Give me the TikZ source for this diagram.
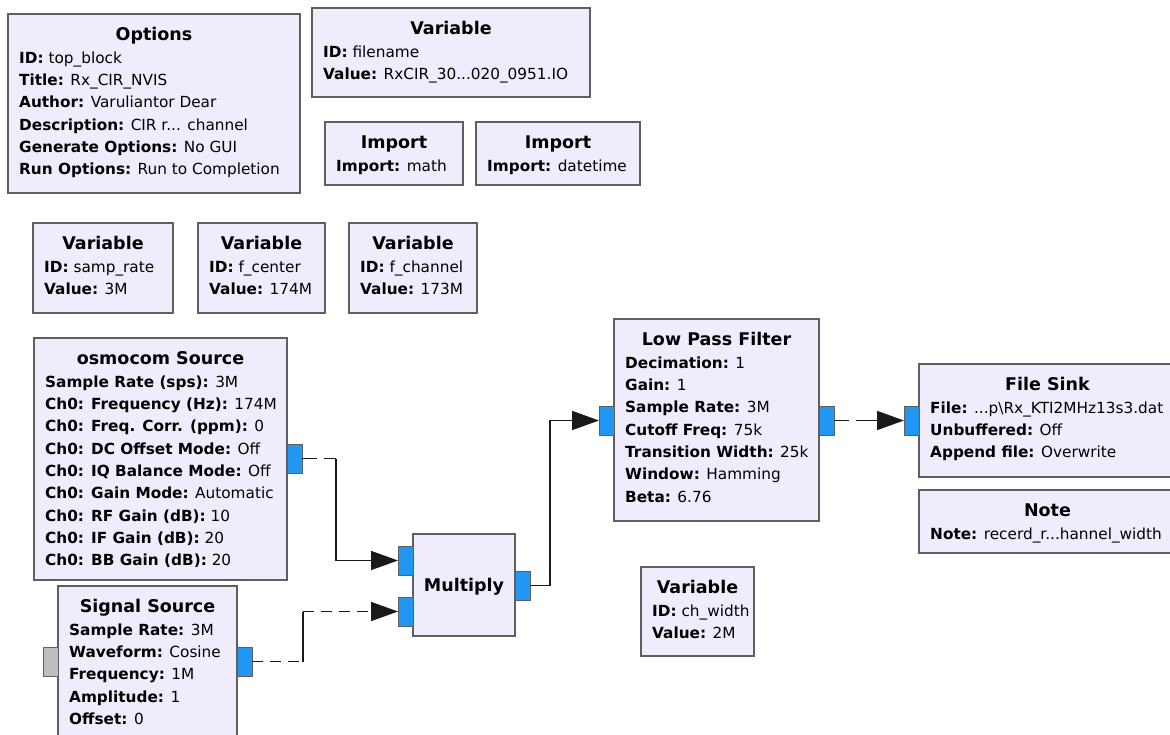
\documentclass[tikz,border=0pt]{standalone}
\usepackage{fontspec}
\setmainfont{DejaVu Sans}
\usetikzlibrary{arrows.meta,calc}
\definecolor{blkfill}{RGB}{240,236,252}
\definecolor{blkline}{RGB}{95,95,95}
\definecolor{portblue}{RGB}{33,150,243}
\definecolor{portgray}{RGB}{190,190,190}
\definecolor{wire}{RGB}{25,25,25}
\tikzset{
 blk/.style={draw=blkline, fill=blkfill, line width=1.3pt, anchor=north west, inner sep=0pt, outer sep=0pt},
 ttl/.style={font=\fontsize{17.5}{20}\selectfont\bfseries, anchor=base, inner sep=0pt},
 props/.style={font=\fontsize{15.3}{22.3}\selectfont, align=left, anchor=north west, inner sep=0pt},
 port/.style={draw=blkline, fill=portblue, line width=1pt, minimum width=15pt, minimum height=29pt, inner sep=0pt, outer sep=0pt, anchor=north west},
 gport/.style={port, fill=portgray},
 wireln/.style={draw=wire, line width=1.6pt},
 dshA/.style={dash pattern=on 15pt off 7pt},
 dshB/.style={dash pattern=on 11pt off 7pt},
 tip/.style={-{Triangle[length=27pt,width=19pt]}},
}
\newcommand\grcblk[7]{%
 \node[blk, minimum width=#4pt, minimum height=#5pt] (#1) at (#2,#3) {};
 \node[ttl] (#1t) at ($(#1.north)+(0,26)$) {#6};
 \node[props] (#1p) at ($(#1.north west)+(11,33.4)$) {\strut #7};
}
\begin{document}
\begin{tikzpicture}[x=1pt,y=-1pt]
\fill[white] (0,0) rectangle (1170,734);
\useasboundingbox (0,0) rectangle (1170,734);

\grcblk{opt}{8}{14}{292}{179}{Options}{\textbf{ID:} top\_block\\ \textbf{Title:} Rx\_CIR\_NVIS\\ \textbf{Author:} Varuliantor Dear\\ \textbf{Description:} CIR r... channel\\ \textbf{Generate Options:} No GUI\\ \textbf{Run Options:} Run to Completion}
\grcblk{fname}{312}{8}{278}{89}{Variable}{\textbf{ID:} filename\\ \textbf{Value:} RxCIR\_30...020\_0951.IO}
\grcblk{imath}{325}{122}{138}{63}{Import}{\textbf{Import:} math}
\grcblk{idt}{476}{122}{164}{63}{Import}{\textbf{Import:} datetime}

\grcblk{vsr}{33}{223}{140}{90}{Variable}{\textbf{ID:} samp\_rate\\ \textbf{Value:} 3M}
\grcblk{vfc}{198}{223}{127}{90}{Variable}{\textbf{ID:} f\_center\\ \textbf{Value:} 174M}
\grcblk{vfch}{349}{223}{128}{90}{Variable}{\textbf{ID:} f\_channel\\ \textbf{Value:} 173M}

\grcblk{osmo}{34}{338}{253}{242}{osmocom Source}{\textbf{Sample Rate (sps):} 3M\\ \textbf{Ch0: Frequency (Hz):} 174M\\ \textbf{Ch0: Freq. Corr. (ppm):} 0\\ \textbf{Ch0: DC Offset Mode:} Off\\ \textbf{Ch0: IQ Balance Mode:} Off\\ \textbf{Ch0: Gain Mode:} Automatic\\ \textbf{Ch0: RF Gain (dB):} 10\\ \textbf{Ch0: IF Gain (dB):} 20\\ \textbf{Ch0: BB Gain (dB):} 20}
\grcblk{sig}{58}{586}{179}{160}{Signal Source}{\textbf{Sample Rate:} 3M\\ \textbf{Waveform:} Cosine\\ \textbf{Frequency:} 1M\\ \textbf{Amplitude:} 1\\ \textbf{Offset:} 0}

\node[blk, minimum width=102pt, minimum height=102pt] (mul) at (413,534) {};
\node[ttl] (mult) at (464,591) {Multiply};

\grcblk{lpf}{614}{319}{205}{202}{Low Pass Filter}{\textbf{Decimation:} 1\\ \textbf{Gain:} 1\\ \textbf{Sample Rate:} 3M\\ \textbf{Cutoff Freq:} 75k\\ \textbf{Transition Width:} 25k\\ \textbf{Window:} Hamming\\ \textbf{Beta:} 6.76}
\grcblk{fsink}{919}{364}{257}{113}{File Sink}{\textbf{File:} ...p\textbackslash Rx\_KTI2MHz13s3.dat\\ \textbf{Unbuffered:} Off\\ \textbf{Append file:} Overwrite}
\grcblk{note}{919}{490}{257}{63}{Note}{\textbf{Note:} recerd\_r...hannel\_width}
\grcblk{vcw}{641}{567}{113}{89}{Variable}{\textbf{ID:} ch\_width\\ \textbf{Value:} 2M}

% ports
\node[port] (osmoout) at (287,444) {};
\node[gport] (sigin) at (43,647) {};
\node[port] (sigout) at (237,647) {};
\node[port] (mulin0) at (398,546) {};
\node[port] (mulin1) at (398,597) {};
\node[port] (mulout) at (515,571) {};
\node[port] (lpfin) at (599,406) {};
\node[port] (lpfout) at (819,406) {};
\node[port] (fsin) at (904,406) {};

% connections
\draw[wireln,dshA] (osmoout.east) -- ++(34,0) coordinate (b1);
\draw[wireln,tip] (b1) |- (mulin0.west);

\draw[wireln,dshB] (sigout.east) -- ++(51,0) coordinate (b2);
\draw[wireln] (b2) -- (b2 |- mulin1.west) coordinate (b3);
\draw[wireln,dshB,tip] (b3) -- (mulin1.west);

\draw[wireln] (mulout.east) -- ++(20,0) coordinate (b4);
\draw[wireln,tip] (b4) |- (lpfin.west);

\draw[wireln,dash pattern=on 15pt off 7pt on 200pt off 1pt,tip] (lpfout.east) -- (fsin.west);
\end{tikzpicture}
\end{document}
